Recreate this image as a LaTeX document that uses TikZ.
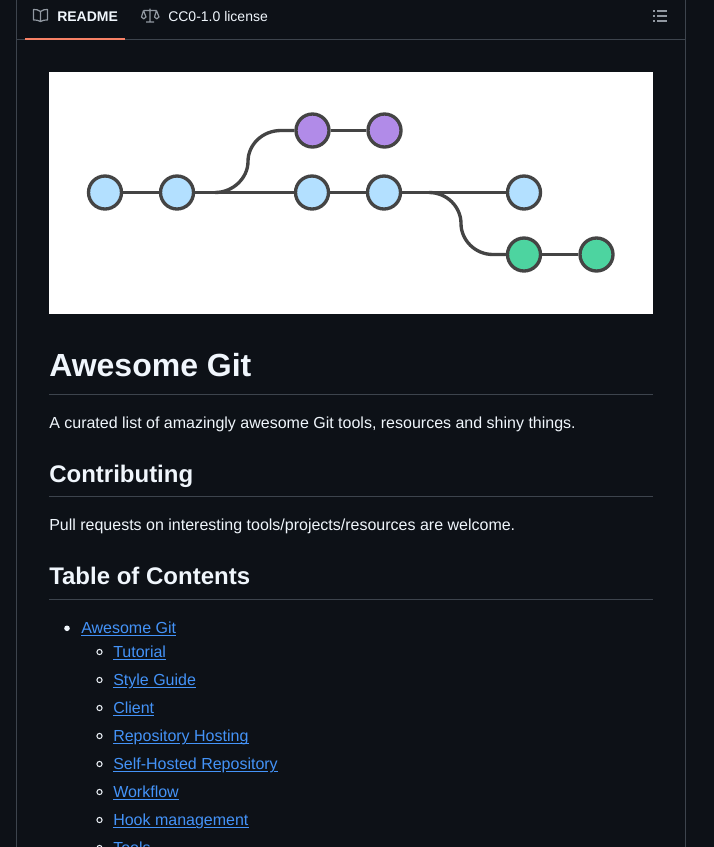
\documentclass[tikz,border=0pt]{standalone}
\usepackage{fontspec}
\setmainfont{Liberation Sans}
\usetikzlibrary{positioning,backgrounds}
\definecolor{pagebg}{HTML}{0D1117}
\definecolor{rulegray}{HTML}{3D444D}
\definecolor{iconGray}{HTML}{9198A1}
\definecolor{textwhite}{HTML}{F0F6FC}
\definecolor{linkblue}{HTML}{4493F8}
\definecolor{tabred}{HTML}{F78166}
\definecolor{commitline}{HTML}{444444}
\definecolor{commitblue}{HTML}{B3E0FF}
\definecolor{commitpurple}{HTML}{B18BE8}
\definecolor{commitgreen}{HTML}{4DD4A0}

\begin{document}
\begin{tikzpicture}[x=0.75pt,y=-0.75pt,
			every node/.style={inner sep=0pt,text=textwhite,anchor=base west},
			commit/.style={circle,draw=commitline,line width=2.5pt,minimum size=24.75pt,anchor=center},
			branch/.style={draw=commitline,line width=2.5pt},
			hrule/.style={draw=rulegray,line width=0.75pt},
			bodytext/.style={font=\fontsize{12}{14}\selectfont},
			tabtext/.style={font=\fontsize{10.5}{12}\selectfont},
			titletext/.style={font=\fontsize{24}{28}\selectfont\bfseries},
			headtext/.style={font=\fontsize{18}{22}\selectfont\bfseries},
			linktext/.style={font=\fontsize{12}{14}\selectfont,text=linkblue},
			linkline/.style={draw=linkblue,line width=0.75pt},
			inkgap/.style={draw=pagebg,line width=1.5pt},
			iconline/.style={draw=iconGray,line width=0.9pt,line join=round}
			]
		\useasboundingbox (0,0) rectangle (714,847);
		\clip (0,0) rectangle (714,847);
		\draw[hrule] (16.5,-2) -- (16.5,849);
		\draw[hrule] (685.5,-2) -- (685.5,849);
		\draw[hrule] (17,39.5) -- (685,39.5);
		\fill[tabred] (25,38) rectangle (125,40);
		% tabs
		\draw[iconline] (40.5,11.5) .. controls (38,9.5) and (36,9.5) .. (33.5,9.5) -- (33.5,20) .. controls (36,20) and (38,20) .. (40.5,21.5) .. controls (43,20) and (45,20) .. (47.5,20) -- (47.5,9.5) .. controls (45,9.5) and (43,9.5) .. (40.5,11.5) -- cycle (40.5,11.5) -- (40.5,21.5);
		\node[tabtext,font=\fontsize{10.5}{12}\selectfont\bfseries] (readme) at (57,21) {README};
		\draw[iconline] (150,8.5) -- (150,22) (146,22) -- (154,22) (143.5,10.5) -- (156.5,10.5)
			(143.5,10.5) -- (141.5,17) .. controls (142.5,19.5) and (145,19.5) .. (146,17) -- (143.5,10.5)
			(156.5,10.5) -- (154.5,17) .. controls (155.5,19.5) and (158,19.5) .. (159,17) -- (156.5,10.5);
		\node[tabtext] (license) at (168,21) {CC0-1.0 license};
		\foreach \ypos in {11,16,21}{
			\fill[iconGray] (653,\ypos-1) rectangle (655,\ypos+1);
			\draw[iconGray,line width=1.1pt] (657,\ypos) -- (667,\ypos);
		}
		% banner
		\fill[white] (49,72) rectangle (653,314);
		\node[commit,fill=commitblue] (c1) at (105,192.5) {};
		\node[commit,fill=commitblue] (c2) at (177,192.5) {};
		\node[commit,fill=commitblue] (c3) at (312,192.5) {};
		\node[commit,fill=commitblue] (c4) at (384,192.5) {};
		\node[commit,fill=commitblue] (c5) at (524,192.5) {};
		\node[commit,fill=commitpurple] (p1) at (312.5,130.5) {};
		\node[commit,fill=commitpurple] (p2) at (384.5,130.5) {};
		\node[commit,fill=commitgreen] (g1) at (524,254.5) {};
		\node[commit,fill=commitgreen] (g2) at (596.5,254.5) {};
		\coordinate (fork1) at (215,192.5);
		\coordinate (fork2) at (429,192.5);
		\draw[branch] (c1) -- (c2);
		\draw[branch] (c2) -- (c3);
		\draw[branch] (c3) -- (c4);
		\draw[branch] (c4) -- (c5);
		\draw[branch] (p1) -- (p2);
		\draw[branch] (g1) -- (g2);
		\draw[branch] (fork1) .. controls (233,192.5) and (248,178) .. (248,161.5) .. controls (248,145) and (262,130.5) .. (281,130.5) -- (p1);
		\draw[branch] (fork2) .. controls (447,192.5) and (461,207) .. (461,223.5) .. controls (461,240) and (475,254.5) .. (493,254.5) -- (g1);
		% text
		\node[titletext] (title) at (49,376) {Awesome Git};
		\draw[hrule] (49,394.5) -- (653,394.5);
		\node[bodytext] (intro) at (49,428) {A curated list of amazingly awesome Git tools, resources and shiny things.};
		\node[headtext] (contrib) at (49,482) {Contributing};
		\draw[hrule] (49,496.5) -- (653,496.5);
		\node[bodytext] (pull) at (49,530) {Pull requests on interesting tools/projects/resources are welcome.};
		\node[headtext] (toc) at (49,584) {Table of Contents};
		\draw[hrule] (49,599.5) -- (653,599.5);
		% list
		\fill[textwhite] (67,628.3) circle (2.8);
		\node[linktext] (top) at (81,633) {Awesome Git};
		\foreach \name/\ypos/\txt in {l1/657/Tutorial,l2/685/Style Guide,l3/713/Client,l4/741/Repository Hosting,l5/769/Self-Hosted Repository,l6/797/Workflow,l7/825/Hook management,l8/853/Tools}{
			\draw[textwhite,line width=0.75pt] (99.5,\ypos-5) circle (2.6);
			\node[linktext] (\name) at (113,\ypos) {\txt};
		}
		\begin{pgfonlayer}{background}
			\fill[pagebg] (0,0) rectangle (714,847);
			\foreach \name in {top,l1,l2,l3,l4,l5,l6,l7,l8}{
				\draw[linkline] ([yshift=-2.2pt]\name.base west) -- ([yshift=-2.2pt]\name.base east);
			}
			\foreach \xa/\xb/\ypos in {127/132.5/688,133/138.5/744,180/186/744,221/226/772,268/274/772,196/204/828}{
				\draw[inkgap] (\xa,\ypos) -- (\xb,\ypos);
			}
		\end{pgfonlayer}
	\end{tikzpicture}
\end{document}
